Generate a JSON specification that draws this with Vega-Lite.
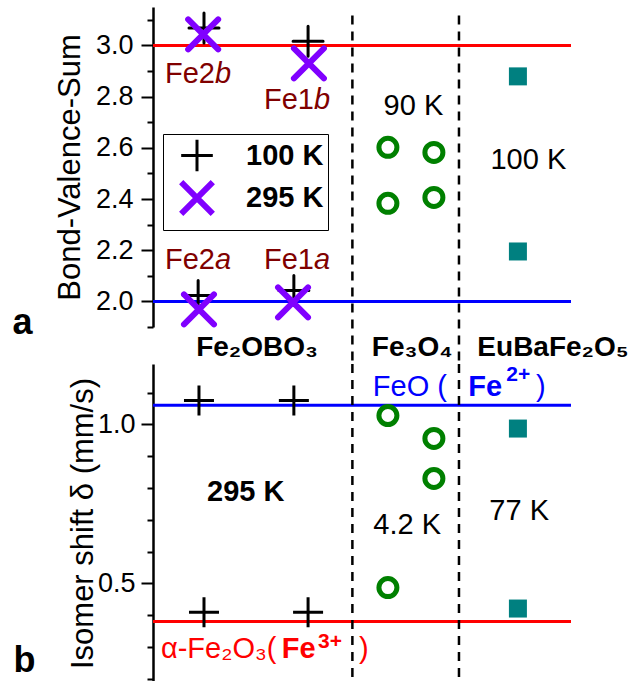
{
 "$schema": "https://vega.github.io/schema/vega-lite/v6.json",
 "background": "white",
 "padding": {"left": 12, "top": 6, "right": 0, "bottom": 0},
 "bounds": "flush",
 "spacing": 37,
 "config": {
  "font": "Liberation Sans",
  "view": {"stroke": null},
  "axis": {"labelFont": "Liberation Sans", "labelFontSize": 27, "labelColor": "black", "titleFont": "Liberation Sans", "titleFontSize": 31, "titleFontWeight": "normal", "titleColor": "black", "domainColor": "black", "domainWidth": 2.5, "tickColor": "black", "tickWidth": 2, "grid": false, "labelOverlap": false}
 },
 "datasets": {
  "a_fe2obo3": [
   {"site": "Fe2b", "temp": "100 K", "pos": 1.22, "bvs": 3.068},
   {"site": "Fe1b", "temp": "100 K", "pos": 3.71, "bvs": 3.016},
   {"site": "Fe2a", "temp": "100 K", "pos": 1.08, "bvs": 2.023},
   {"site": "Fe1a", "temp": "100 K", "pos": 3.37, "bvs": 2.043},
   {"site": "Fe2b", "temp": "295 K", "pos": 1.20, "bvs": 3.043},
   {"site": "Fe1b", "temp": "295 K", "pos": 3.73, "bvs": 2.93},
   {"site": "Fe2a", "temp": "295 K", "pos": 1.10, "bvs": 1.969},
   {"site": "Fe1a", "temp": "295 K", "pos": 3.35, "bvs": 1.996}
  ],
  "a_fe3o4": [
   {"pos": 5.62, "bvs": 2.602}, {"pos": 6.72, "bvs": 2.582}, {"pos": 5.62, "bvs": 2.383}, {"pos": 6.72, "bvs": 2.406}
  ],
  "a_eubafe2o5": [{"pos": 8.73, "bvs": 2.879}, {"pos": 8.73, "bvs": 2.195}],
  "a_ref": [{"ion": "Fe3+", "bvs": 3.0}, {"ion": "Fe2+", "bvs": 2.0}],
  "dividers": [{"pos": 4.77}, {"pos": 7.32}],
  "a_site_labels": [
   {"site": "Fe2b", "main": "Fe2", "suffix": "b", "pos": 1.483, "bvs": 2.852},
   {"site": "Fe1b", "main": "Fe1", "suffix": "b", "pos": 3.852, "bvs": 2.75},
   {"site": "Fe2a", "main": "Fe2", "suffix": "a", "pos": 1.483, "bvs": 2.125},
   {"site": "Fe1a", "main": "Fe1", "suffix": "a", "pos": 3.852, "bvs": 2.125}
  ],
  "a_temp_labels": [{"label": "90 K", "pos": 6.23, "bvs": 2.73}, {"label": "100 K", "pos": 8.98, "bvs": 2.516}],
  "compounds": [
   {"label": "Fe₂OBO₃", "pos": 2.49, "bvs": 1.785},
   {"label": "Fe₃O₄", "pos": 6.20, "bvs": 1.785},
   {"label": "EuBaFe₂O₅", "pos": 9.57, "bvs": 1.785}
  ],
  "a_letter": [{"label": "a", "pos": -3.36, "bvs": 1.871}],
  "b_fe2obo3": [
   {"pos": 1.10, "shift": 1.075}, {"pos": 3.37, "shift": 1.075}, {"pos": 1.22, "shift": 0.409}, {"pos": 3.71, "shift": 0.409}
  ],
  "b_fe3o4": [
   {"pos": 5.62, "shift": 1.028}, {"pos": 6.72, "shift": 0.956}, {"pos": 6.72, "shift": 0.83}, {"pos": 5.62, "shift": 0.487}
  ],
  "b_eubafe2o5": [{"pos": 8.73, "shift": 0.987}, {"pos": 8.73, "shift": 0.421}],
  "b_ref": [{"ion": "Fe3+", "shift": 0.38}, {"ion": "Fe2+", "shift": 1.06}],
  "b_temp_labels": [{"label": "4.2 K", "pos": 6.08, "shift": 0.654}, {"label": "77 K", "pos": 8.76, "shift": 0.701}],
  "b_bold_labels": [{"label": "295 K", "pos": 2.22, "shift": 0.758}],
  "b_ref_labels": [
   {"ion": "Fe3+", "plain": "α-Fe₂O₃(", "bold": "Fe", "sup": "3+", "close": ")", "x_plain": 0.19, "x_bold": 3.08, "x_sup": 3.95, "x_close": 4.93, "y": 0.264, "y_sup": 0.296},
   {"ion": "Fe2+", "plain": "FeO (", "bold": "Fe", "sup": "2+", "close": ")", "x_plain": 5.26, "x_bold": 7.54, "x_sup": 8.45, "x_close": 9.16, "y": 1.088, "y_sup": 1.135}
  ],
  "b_letter": [{"label": "b", "pos": -3.34, "shift": 0.223}]
 },
 "vconcat": [
  {
   "width": 418,
   "height": 320,
   "resolve": {"axis": {"y": "independent"}},
   "layer": [
    {
     "data": {"name": "a_ref"},
     "transform": [{"filter": "datum.ion === 'Fe3+'"}],
     "mark": {"type": "rule", "color": "#ff0000", "strokeWidth": 3},
     "encoding": {
      "y": {"field": "bvs", "type": "quantitative", "scale": {"domain": [1.9, 3.15], "nice": false, "zero": false},
       "axis": {"orient": "left", "values": [2.0, 2.2, 2.4, 2.6, 2.8, 3.0], "format": ".1f", "tickSize": 12, "labelPadding": 8, "title": "Bond-Valence-Sum", "titlePadding": 9}}
     }
    },
    {
     "data": {"name": "a_ref"},
     "transform": [{"filter": "datum.ion === 'Fe2+'"}],
     "mark": {"type": "rule", "color": "#0000ff", "strokeWidth": 3},
     "encoding": {
      "y": {"field": "bvs", "type": "quantitative", "scale": {"domain": [1.9, 3.15], "nice": false, "zero": false},
       "axis": {"orient": "left", "values": [1.9, 2.1, 2.3, 2.5, 2.7, 2.9, 3.1], "tickSize": 6, "labels": false, "domain": false, "title": null}}
     }
    },
    {
     "data": {"name": "dividers"},
     "mark": {"type": "rule", "color": "black", "strokeWidth": 2.5, "strokeDash": [9, 7]},
     "encoding": {
      "x": {"field": "pos", "type": "quantitative", "scale": {"domain": [0, 10], "nice": false, "zero": false},
       "axis": {"orient": "bottom", "ticks": false, "labels": false, "title": null, "domainWidth": 2.5}},
      "y": {"datum": 3.117, "type": "quantitative", "scale": {"domain": [1.9, 3.15], "nice": false, "zero": false}, "axis": null},
      "y2": {"datum": 1.75}
     }
    },
    {
     "data": {"name": "a_fe2obo3"},
     "mark": {"type": "point", "filled": false, "size": 900, "opacity": 1, "strokeCap": "round"},
     "encoding": {
      "x": {"field": "pos", "type": "quantitative", "scale": {"domain": [0, 10], "nice": false, "zero": false}, "axis": null},
      "y": {"field": "bvs", "type": "quantitative", "scale": {"domain": [1.9, 3.15], "nice": false, "zero": false}, "axis": null},
      "stroke": {"field": "temp", "type": "nominal", "scale": {"domain": ["100 K", "295 K"], "range": ["#000000", "#8000ff"]},
       "legend": {"orient": "none", "legendX": 10, "legendY": 127, "title": null, "strokeColor": "black", "fillColor": "white", "padding": 4, "labelFont": "Liberation Sans", "labelFontSize": 29, "labelFontWeight": "bold", "labelColor": "black", "symbolSize": 1000, "rowPadding": -8, "labelOffset": 30, "symbolOffset": 11}},
      "shape": {"field": "temp", "type": "nominal", "scale": {"domain": ["100 K", "295 K"], "range": ["M-1,0L1,0M0,-1L0,1", "M-1,-1L1,1M-1,1L1,-1"]},
       "legend": {"orient": "none", "legendX": 10, "legendY": 127, "title": null, "strokeColor": "black", "fillColor": "white", "padding": 4, "labelFont": "Liberation Sans", "labelFontSize": 29, "labelFontWeight": "bold", "labelColor": "black", "symbolSize": 1000, "rowPadding": -8, "labelOffset": 30, "symbolOffset": 11}},
      "strokeWidth": {"field": "temp", "type": "ordinal", "scale": {"domain": ["100 K", "295 K"], "range": [3, 6]},
       "legend": {"orient": "none", "legendX": 10, "legendY": 127, "title": null, "strokeColor": "black", "fillColor": "white", "padding": 4, "labelFont": "Liberation Sans", "labelFontSize": 29, "labelFontWeight": "bold", "labelColor": "black", "symbolSize": 1000, "rowPadding": -8, "labelOffset": 30, "symbolOffset": 11}}
     }
    },
    {
     "data": {"name": "a_fe3o4"},
     "mark": {"type": "point", "shape": "circle", "filled": false, "size": 324, "opacity": 1, "stroke": "#008000", "strokeWidth": 5},
     "encoding": {
      "x": {"field": "pos", "type": "quantitative", "scale": {"domain": [0, 10], "nice": false, "zero": false}, "axis": null},
      "y": {"field": "bvs", "type": "quantitative", "scale": {"domain": [1.9, 3.15], "nice": false, "zero": false}, "axis": null}
     }
    },
    {
     "data": {"name": "a_eubafe2o5"},
     "mark": {"type": "point", "shape": "square", "filled": true, "size": 324, "opacity": 1, "fill": "#008080"},
     "encoding": {
      "x": {"field": "pos", "type": "quantitative", "scale": {"domain": [0, 10], "nice": false, "zero": false}, "axis": null},
      "y": {"field": "bvs", "type": "quantitative", "scale": {"domain": [1.9, 3.15], "nice": false, "zero": false}, "axis": null}
     }
    },
    {
     "data": {"name": "a_site_labels"},
     "mark": {"type": "text", "align": "right", "baseline": "alphabetic", "fontSize": 29, "color": "#800000", "font": "Liberation Sans"},
     "encoding": {
      "x": {"field": "pos", "type": "quantitative", "scale": {"domain": [0, 10], "nice": false, "zero": false}, "axis": null},
      "y": {"field": "bvs", "type": "quantitative", "scale": {"domain": [1.9, 3.15], "nice": false, "zero": false}, "axis": null},
      "text": {"field": "main"}
     }
    },
    {
     "data": {"name": "a_site_labels"},
     "mark": {"type": "text", "align": "left", "baseline": "alphabetic", "fontSize": 29, "fontStyle": "italic", "color": "#800000", "font": "Liberation Sans"},
     "encoding": {
      "x": {"field": "pos", "type": "quantitative", "scale": {"domain": [0, 10], "nice": false, "zero": false}, "axis": null},
      "y": {"field": "bvs", "type": "quantitative", "scale": {"domain": [1.9, 3.15], "nice": false, "zero": false}, "axis": null},
      "text": {"field": "suffix"}
     }
    },
    {
     "data": {"name": "a_temp_labels"},
     "mark": {"type": "text", "align": "center", "baseline": "alphabetic", "fontSize": 29, "color": "black", "font": "Liberation Sans"},
     "encoding": {
      "x": {"field": "pos", "type": "quantitative", "scale": {"domain": [0, 10], "nice": false, "zero": false}, "axis": null},
      "y": {"field": "bvs", "type": "quantitative", "scale": {"domain": [1.9, 3.15], "nice": false, "zero": false}, "axis": null},
      "text": {"field": "label"}
     }
    },
    {
     "data": {"name": "compounds"},
     "mark": {"type": "text", "align": "center", "baseline": "alphabetic", "fontSize": 28, "fontWeight": "bold", "color": "black", "font": "Liberation Sans"},
     "encoding": {
      "x": {"field": "pos", "type": "quantitative", "scale": {"domain": [0, 10], "nice": false, "zero": false}, "axis": null},
      "y": {"field": "bvs", "type": "quantitative", "scale": {"domain": [1.9, 3.15], "nice": false, "zero": false}, "axis": null},
      "text": {"field": "label"}
     }
    },
    {
     "data": {"name": "a_letter"},
     "mark": {"type": "text", "align": "left", "baseline": "alphabetic", "fontSize": 36, "fontWeight": "bold", "color": "black", "font": "Liberation Sans"},
     "encoding": {
      "x": {"field": "pos", "type": "quantitative", "scale": {"domain": [0, 10], "nice": false, "zero": false}, "axis": null},
      "y": {"field": "bvs", "type": "quantitative", "scale": {"domain": [1.9, 3.15], "nice": false, "zero": false}, "axis": null},
      "text": {"field": "label"}
     }
    }
   ]
  },
  {
   "width": 418,
   "height": 318,
   "resolve": {"axis": {"y": "independent"}},
   "layer": [
    {
     "data": {"name": "b_ref"},
     "transform": [{"filter": "datum.ion === 'Fe3+'"}],
     "mark": {"type": "rule", "color": "#ff0000", "strokeWidth": 3},
     "encoding": {
      "y": {"field": "shift", "type": "quantitative", "scale": {"domain": [0.19, 1.19], "nice": false, "zero": false},
       "axis": {"orient": "left", "values": [0.5, 1.0], "format": ".1f", "tickSize": 12, "labelPadding": 6, "title": "Isomer shift δ (mm/s)", "titlePadding": -2}}
     }
    },
    {
     "data": {"name": "b_ref"},
     "transform": [{"filter": "datum.ion === 'Fe2+'"}],
     "mark": {"type": "rule", "color": "#0000ff", "strokeWidth": 3},
     "encoding": {
      "y": {"field": "shift", "type": "quantitative", "scale": {"domain": [0.19, 1.19], "nice": false, "zero": false},
       "axis": {"orient": "left", "values": [0.2, 0.3, 0.4, 0.6, 0.7, 0.8, 0.9, 1.1], "tickSize": 6, "labels": false, "domain": false, "title": null}}
     }
    },
    {
     "data": {"name": "dividers"},
     "mark": {"type": "rule", "color": "black", "strokeWidth": 2.5, "strokeDash": [9, 7]},
     "encoding": {
      "x": {"field": "pos", "type": "quantitative", "scale": {"domain": [0, 10], "nice": false, "zero": false}, "axis": null}
     }
    },
    {
     "data": {"name": "b_fe2obo3"},
     "mark": {"type": "point", "shape": "M-1,0L1,0M0,-1L0,1", "filled": false, "size": 900, "opacity": 1, "stroke": "#000000", "strokeWidth": 3},
     "encoding": {
      "x": {"field": "pos", "type": "quantitative", "scale": {"domain": [0, 10], "nice": false, "zero": false}, "axis": null},
      "y": {"field": "shift", "type": "quantitative", "scale": {"domain": [0.19, 1.19], "nice": false, "zero": false}, "axis": null}
     }
    },
    {
     "data": {"name": "b_fe3o4"},
     "mark": {"type": "point", "shape": "circle", "filled": false, "size": 324, "opacity": 1, "stroke": "#008000", "strokeWidth": 5},
     "encoding": {
      "x": {"field": "pos", "type": "quantitative", "scale": {"domain": [0, 10], "nice": false, "zero": false}, "axis": null},
      "y": {"field": "shift", "type": "quantitative", "scale": {"domain": [0.19, 1.19], "nice": false, "zero": false}, "axis": null}
     }
    },
    {
     "data": {"name": "b_eubafe2o5"},
     "mark": {"type": "point", "shape": "square", "filled": true, "size": 324, "opacity": 1, "fill": "#008080"},
     "encoding": {
      "x": {"field": "pos", "type": "quantitative", "scale": {"domain": [0, 10], "nice": false, "zero": false}, "axis": null},
      "y": {"field": "shift", "type": "quantitative", "scale": {"domain": [0.19, 1.19], "nice": false, "zero": false}, "axis": null}
     }
    },
    {
     "data": {"name": "b_temp_labels"},
     "mark": {"type": "text", "align": "center", "baseline": "alphabetic", "fontSize": 29, "color": "black", "font": "Liberation Sans"},
     "encoding": {
      "x": {"field": "pos", "type": "quantitative", "scale": {"domain": [0, 10], "nice": false, "zero": false}, "axis": null},
      "y": {"field": "shift", "type": "quantitative", "scale": {"domain": [0.19, 1.19], "nice": false, "zero": false}, "axis": null},
      "text": {"field": "label"}
     }
    },
    {
     "data": {"name": "b_bold_labels"},
     "mark": {"type": "text", "align": "center", "baseline": "alphabetic", "fontSize": 29, "fontWeight": "bold", "color": "black", "font": "Liberation Sans"},
     "encoding": {
      "x": {"field": "pos", "type": "quantitative", "scale": {"domain": [0, 10], "nice": false, "zero": false}, "axis": null},
      "y": {"field": "shift", "type": "quantitative", "scale": {"domain": [0.19, 1.19], "nice": false, "zero": false}, "axis": null},
      "text": {"field": "label"}
     }
    },
    {
     "data": {"name": "b_ref_labels"},
     "mark": {"type": "text", "align": "left", "baseline": "alphabetic", "fontSize": 29, "font": "Liberation Sans"},
     "encoding": {
      "x": {"field": "x_plain", "type": "quantitative", "scale": {"domain": [0, 10], "nice": false, "zero": false}, "axis": null},
      "y": {"field": "y", "type": "quantitative", "scale": {"domain": [0.19, 1.19], "nice": false, "zero": false}, "axis": null},
      "fill": {"field": "ion", "type": "nominal", "scale": {"domain": ["Fe3+", "Fe2+"], "range": ["#ff0000", "#0000ff"]}, "legend": null},
      "text": {"field": "plain"}
     }
    },
    {
     "data": {"name": "b_ref_labels"},
     "mark": {"type": "text", "align": "left", "baseline": "alphabetic", "fontSize": 29, "fontWeight": "bold", "font": "Liberation Sans"},
     "encoding": {
      "x": {"field": "x_bold", "type": "quantitative", "scale": {"domain": [0, 10], "nice": false, "zero": false}, "axis": null},
      "y": {"field": "y", "type": "quantitative", "scale": {"domain": [0.19, 1.19], "nice": false, "zero": false}, "axis": null},
      "fill": {"field": "ion", "type": "nominal", "scale": {"domain": ["Fe3+", "Fe2+"], "range": ["#ff0000", "#0000ff"]}, "legend": null},
      "text": {"field": "bold"}
     }
    },
    {
     "data": {"name": "b_ref_labels"},
     "mark": {"type": "text", "align": "left", "baseline": "alphabetic", "fontSize": 21, "fontWeight": "bold", "font": "Liberation Sans"},
     "encoding": {
      "x": {"field": "x_sup", "type": "quantitative", "scale": {"domain": [0, 10], "nice": false, "zero": false}, "axis": null},
      "y": {"field": "y_sup", "type": "quantitative", "scale": {"domain": [0.19, 1.19], "nice": false, "zero": false}, "axis": null},
      "fill": {"field": "ion", "type": "nominal", "scale": {"domain": ["Fe3+", "Fe2+"], "range": ["#ff0000", "#0000ff"]}, "legend": null},
      "text": {"field": "sup"}
     }
    },
    {
     "data": {"name": "b_ref_labels"},
     "mark": {"type": "text", "align": "left", "baseline": "alphabetic", "fontSize": 29, "font": "Liberation Sans"},
     "encoding": {
      "x": {"field": "x_close", "type": "quantitative", "scale": {"domain": [0, 10], "nice": false, "zero": false}, "axis": null},
      "y": {"field": "y", "type": "quantitative", "scale": {"domain": [0.19, 1.19], "nice": false, "zero": false}, "axis": null},
      "fill": {"field": "ion", "type": "nominal", "scale": {"domain": ["Fe3+", "Fe2+"], "range": ["#ff0000", "#0000ff"]}, "legend": null},
      "text": {"field": "close"}
     }
    },
    {
     "data": {"name": "b_letter"},
     "mark": {"type": "text", "align": "left", "baseline": "alphabetic", "fontSize": 36, "fontWeight": "bold", "color": "black", "font": "Liberation Sans"},
     "encoding": {
      "x": {"field": "pos", "type": "quantitative", "scale": {"domain": [0, 10], "nice": false, "zero": false}, "axis": null},
      "y": {"field": "shift", "type": "quantitative", "scale": {"domain": [0.19, 1.19], "nice": false, "zero": false}, "axis": null},
      "text": {"field": "label"}
     }
    }
   ]
  }
 ]
}
